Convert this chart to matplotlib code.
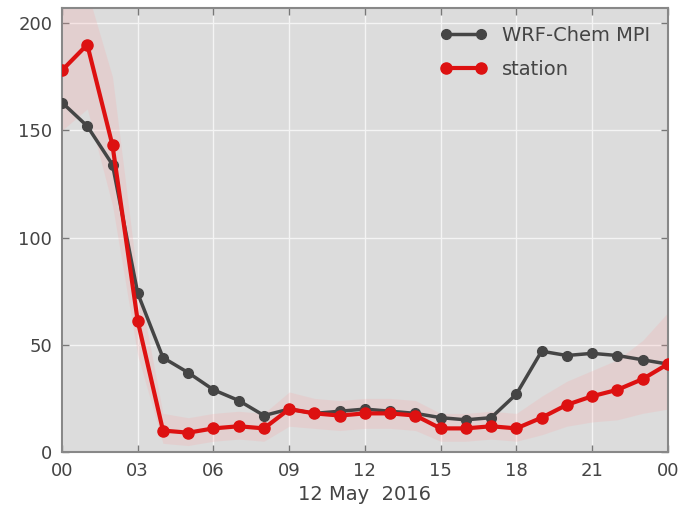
import matplotlib
matplotlib.use("Agg")
import matplotlib.pyplot as plt
import numpy as np

hours = list(range(25))
tick_pos = [0, 3, 6, 9, 12, 15, 18, 21, 24]
tick_labels = ["00", "03", "06", "09", "12", "15", "18", "21", "00"]
yticks = [0, 50, 100, 150, 200]

station = [178, 190, 143, 61, 10, 9, 11, 12, 11, 20, 18, 17, 18, 18, 17,
           11, 11, 12, 11, 16, 22, 26, 29, 34, 41]
station_lo = [150, 160, 115, 45, 4, 3, 5, 6, 5, 12, 11, 10, 11, 11, 10,
              5, 5, 6, 5, 8, 12, 14, 15, 18, 20]
station_hi = [215, 215, 175, 80, 18, 16, 18, 19, 18, 28, 25, 24, 25, 25, 24,
              18, 18, 19, 18, 26, 33, 38, 43, 52, 65]

model = [163, 152, 134, 74, 44, 37, 29, 24, 17, 20, 18, 19, 20, 19, 18,
         16, 15, 16, 27, 47, 45, 46, 45, 43, 41]

fig = plt.figure(figsize=(6.83, 5.11), dpi=100)
ax = fig.add_axes([0.0908, 0.1155, 0.887, 0.8685])
ax.set_facecolor("#dcdcdc")

ax.fill_between(hours, station_lo, station_hi, color="#ff9999", alpha=0.18,
                linewidth=0, zorder=1)

ax.plot(hours, model, color="#454545", lw=2.5, marker="o", ms=7,
        label="WRF-Chem MPI", zorder=3)
ax.plot(hours, station, color="#dd1111", lw=3, marker="o", ms=8,
        label="station", zorder=4)

ax.set_xlim(0, 24)
ax.set_ylim(0, 207)
ax.set_xticks(tick_pos)
ax.set_xticklabels(tick_labels)
ax.set_yticks(yticks)
ax.grid(True, color="#f4f4f4", lw=1.0, zorder=0)
ax.set_axisbelow(True)
ax.tick_params(direction="in", top=True, right=True, length=5, width=1,
               colors="#777777", labelcolor="#444444", labelsize=13)
ax.tick_params(axis="x", pad=7)
ax.tick_params(axis="y", pad=7)
for s in ax.spines.values():
    s.set_color("#888888")
    s.set_linewidth(1.5)
ax.set_xlabel("12 May  2016", fontsize=14, color="#444444", labelpad=4)

leg = ax.legend(loc="upper right", frameon=False, fontsize=14, numpoints=2,
                handlelength=2.4, borderaxespad=0.5, labelspacing=0.8)
for t in leg.get_texts():
    t.set_color("#444444")

fig.savefig("out.png", dpi=100)
